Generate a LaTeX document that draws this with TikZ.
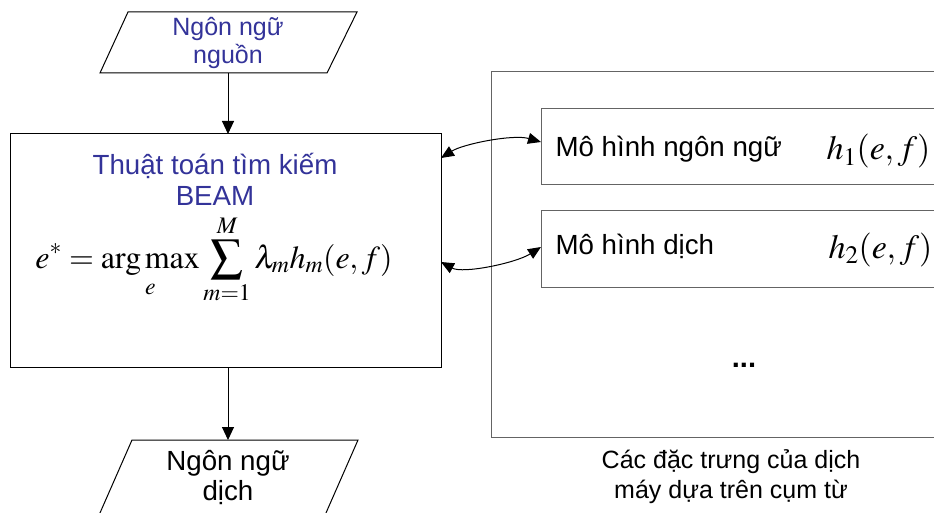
\documentclass[tikz,border=0pt]{standalone}
\usepackage{mathptmx}
\usepackage[no-math]{fontspec}
\setmainfont{Liberation Sans}
\usetikzlibrary{arrows.meta,calc}
\definecolor{titleblue}{RGB}{51,51,153}
\definecolor{framegray}{RGB}{100,100,100}

\begin{document}
\begin{tikzpicture}[x=1pt,y=-1pt,
  line width=1pt,
  tip/.style={-{Triangle[length=13pt,width=12pt]}},
  dbl/.style={{Triangle[length=13pt,width=11pt]}-{Triangle[length=13pt,width=11pt]}},
  txtbig/.style={font=\fontsize{27.7}{31}\selectfont, inner sep=0pt, anchor=base},
  txtsmall/.style={font=\fontsize{25}{29}\selectfont, inner sep=0pt, anchor=base},
  mathbig/.style={inner sep=0pt, anchor=base west, font=\fontsize{34}{38}\selectfont},
  blank/.style={inner sep=0pt, outer sep=0pt, draw=none},
  frame/.style={draw, inner sep=0pt, outer sep=0pt},
  graybox/.style={draw=framegray, inner sep=0pt, outer sep=0pt},
]
\clip (0,0) rectangle (934,513);

% input parallelogram
\node[blank, minimum width=228pt, minimum height=61pt] (src) at (228,42.5) {};
\draw ($(src.north west)+(14,0)$) -- ($(src.north east)+(15,0)$)
   -- ($(src.south east)+(-15,0)$) -- ($(src.south west)+(-14,0)$) -- cycle;
\node[txtsmall, text=titleblue] (srcA) at (228,36) {Ngôn ngữ};
\node[txtsmall, text=titleblue] (srcB) at (228,64) {nguồn};

% search algorithm box
\node[frame, minimum width=431pt, minimum height=233pt] (main) at (225.5,250.5) {};
\node[txtbig, text=titleblue] (algA) at (215,175) {Thuật toán tìm kiếm};
\node[txtbig, text=titleblue] (algB) at (215,206) {BEAM};
\node[inner sep=0pt, anchor=base, font=\fontsize{32}{36}\selectfont] (rule) at (214,268)
  {$\displaystyle e^{*} = \mathop{\mathrm{arg\,max}}\limits_{e}\sum_{m=1}^{M}\lambda_{m}h_{m}(e,f)$};

% output parallelogram
\node[blank, minimum width=226pt, minimum height=90pt] (dst) at (228,485) {};
\draw ($(dst.south west)+(-22.5,0)$) -- ($(dst.north west)+(17,0)$)
   -- ($(dst.north east)+(17,0)$) -- ($(dst.south east)+(-22.5,0)$);
\node[txtbig] (dstA) at (228,470) {Ngôn ngữ};
\node[txtbig] (dstB) at (228,500) {dịch};

% feature functions
\node[graybox, minimum width=459pt, minimum height=365pt] (feat) at (720.5,254.5) {};
\node[graybox, minimum width=404pt, minimum height=76pt] (lm) at (743,147) {};
\node[graybox, minimum width=404pt, minimum height=76pt] (tm) at (743,249) {};
\node[txtbig, anchor=base west] (lmA) at (555,157) {Mô hình ngôn ngữ};
\node[mathbig] (lmB) at (826,160) {$h_{1}(e,f)$};
\node[txtbig, anchor=base west] (tmA) at (555,254) {Mô hình dịch};
\node[mathbig] (tmB) at (828,258) {$h_{2}(e,f)$};
\node[txtbig, font=\bfseries\fontsize{29}{31}\selectfont] (more) at (744,367) {...};
\node[txtsmall] (capA) at (731,468) {Các đặc trưng của dịch};
\node[txtsmall] (capB) at (731,498) {máy dựa trên cụm từ};

% connectors
\draw[tip] (src.south) -- (src.south |- main.north);
\draw[tip] (src.south |- main.south) -- (src.south |- dst.north);
\draw[dbl] (main.east |- 0,158) .. controls +(22,-14) and +(-28,-8) .. (lm.west |- 0,142);
\draw[dbl] (main.east |- 0,262) .. controls +(22,12) and +(-25,16) .. (tm.west |- 0,247);
\end{tikzpicture}
\end{document}
